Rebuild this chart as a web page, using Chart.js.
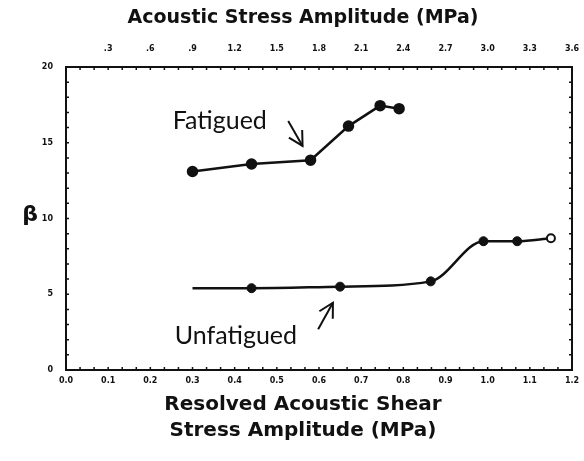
<!DOCTYPE html>
<html><head><meta charset="utf-8">
<script src="https://cdn.jsdelivr.net/npm/chart.js@4"></script>
<style>html,body{margin:0;padding:0;background:#fff}#wrap{width:584px;height:461px}</style>
</head><body><div id="wrap"><canvas id="c" width="584" height="461"></canvas></div>
<script>
// Data
const fatiguedShear = [0.30, 0.44, 0.58, 0.67, 0.745, 0.79];
const fatiguedBeta = [13.1, 13.6, 13.85, 16.1, 17.45, 17.25];
const unfatiguedShear = [0.30, 0.44, 0.65, 0.865, 0.99, 1.07, 1.15];
const unfatiguedBeta = [5.4, 5.4, 5.5, 5.85, 8.5, 8.5, 8.7];
const shearTickLabels = ['0.0','0.1','0.2','0.3','0.4','0.5','0.6','0.7','0.8','0.9','1.0','1.1','1.2'];
const stressTickLabels = ['.3','.6','.9','1.2','1.5','1.8','2.1','2.4','2.7','3.0','3.3','3.6'];
const betaTickLabels = ['0','5','10','15','20'];
const topTitle = 'Acoustic Stress Amplitude (MPa)';
const bottomTitle = ['Resolved Acoustic Shear', 'Stress Amplitude (MPa)'];
const labels = [
  {text:'Fatigued', x:0.253, y:15.89, ax1:0.527, ay1:16.43, ax2:0.561, ay2:14.79},
  {text:'Unfatigued', x:0.258, y:1.72, ax1:0.598, ay1:2.69, ax2:0.633, ay2:4.44}
];

const tickFont = {family:'DejaVu Sans', size:8, weight:'bold'};

function pts(xs, ys){ return xs.map((x,i)=>({x:x, y:ys[i]})); }
const nums = arr => arr.map(Number);

const decor = {
  id:'decor',
  afterDraw(chart){
    const ctx = chart.ctx, s = chart.scales, a = chart.chartArea;
    ctx.save();
    ctx.strokeStyle = '#111'; ctx.lineWidth = 1.5;
    // inward minor ticks
    for (let v=0; v<=20.001; v+=1){
      const py = s.y.getPixelForValue(v);
      ctx.beginPath(); ctx.moveTo(a.left, py); ctx.lineTo(a.left+3, py);
      ctx.moveTo(a.right, py); ctx.lineTo(a.right-3, py); ctx.stroke();
    }
    for (let v=0; v<=3.6001; v+=0.1){
      const px = s.x2.getPixelForValue(v);
      ctx.beginPath(); ctx.moveTo(px, a.top); ctx.lineTo(px, a.top+3);
      ctx.moveTo(px, a.bottom); ctx.lineTo(px, a.bottom-3); ctx.stroke();
    }
    ctx.fillStyle = '#111';
    ctx.textAlign = 'center'; ctx.textBaseline = 'middle';
    // axis titles
    const cx = (a.left + a.right)/2 - 16;
    ctx.font = 'bold 19px "DejaVu Sans"';
    ctx.fillText(topTitle, cx, 18);
    ctx.font = 'bold 20px "DejaVu Sans"';
    ctx.fillText(bottomTitle[0], cx, 405);
    ctx.fillText(bottomTitle[1], cx, 431);
    // beta label
    ctx.font = 'bold 22px "DejaVu Sans"';
    ctx.fillText('β', 30, s.y.getPixelForValue(10.2));
    // annotations
    ctx.font = '25px Lato';
    ctx.textAlign = 'left'; ctx.textBaseline = 'alphabetic';
    ctx.lineWidth = 2;
    labels.forEach(l=>{
      ctx.fillText(l.text, s.x.getPixelForValue(l.x), s.y.getPixelForValue(l.y));
      const x1 = s.x.getPixelForValue(l.ax1), y1 = s.y.getPixelForValue(l.ay1);
      const x2 = s.x.getPixelForValue(l.ax2), y2 = s.y.getPixelForValue(l.ay2);
      ctx.beginPath(); ctx.moveTo(x1,y1); ctx.lineTo(x2,y2); ctx.stroke();
      const ang = Math.atan2(y2-y1, x2-x1), h = 16, sp = 0.5;
      ctx.beginPath();
      ctx.moveTo(x2 - h*Math.cos(ang-sp), y2 - h*Math.sin(ang-sp));
      ctx.lineTo(x2,y2);
      ctx.lineTo(x2 - h*Math.cos(ang+sp), y2 - h*Math.sin(ang+sp));
      ctx.stroke();
    });
    ctx.restore();
  }
};

const noPad = sc => { sc.paddingLeft = 0; sc.paddingRight = 0; };

new Chart(document.getElementById('c'), {
  type:'line',
  data:{datasets:[
    {label:'Fatigued', data:pts(fatiguedShear, fatiguedBeta), borderColor:'#111', borderWidth:2.5,
     pointRadius:4.5, pointBackgroundColor:'#111', pointBorderColor:'#111', tension:0, xAxisID:'x', yAxisID:'y'},
    {label:'Unfatigued', data:pts(unfatiguedShear, unfatiguedBeta), borderColor:'#111', borderWidth:2.5,
     pointRadius:[0,4.5,4.5,4.5,4.5,4.5,4], pointBorderWidth:[1,1,1,1,1,1,2],
     pointBackgroundColor:['#111','#111','#111','#111','#111','#111','#fff'], pointBorderColor:'#111',
     cubicInterpolationMode:'monotone', xAxisID:'x', yAxisID:'y'}
  ]},
  options:{
    responsive:false, animation:false, devicePixelRatio:1,
    layout:{padding:0},
    plugins:{legend:{display:false}, tooltip:{enabled:false}},
    scales:{
      x:{type:'linear', position:'bottom', min:0, max:1.2,
        afterBuildTicks:sc=>{sc.ticks = nums(shearTickLabels).map(v=>({value:v}));},
        afterFit:sc=>{sc.height = 91; noPad(sc);},
        ticks:{font:tickFont, color:'#111', padding:6, maxRotation:0, autoSkip:false,
          callback:(v,i)=>shearTickLabels[i]},
        grid:{drawOnChartArea:false, drawTicks:false},
        border:{display:true, color:'#111', width:2}
      },
      x2:{type:'linear', position:'top', min:0, max:3.6,
        afterBuildTicks:sc=>{sc.ticks = nums(stressTickLabels).map(v=>({value:v}));},
        afterFit:sc=>{sc.height = 67; noPad(sc);},
        ticks:{font:tickFont, color:'#111', padding:13, maxRotation:0, autoSkip:false,
          callback:(v,i)=>stressTickLabels[i]},
        grid:{drawOnChartArea:false, drawTicks:false},
        border:{display:true, color:'#111', width:2}
      },
      y:{type:'linear', position:'left', min:0, max:20,
        afterBuildTicks:sc=>{sc.ticks = nums(betaTickLabels).map(v=>({value:v}));},
        afterFit:sc=>{sc.width = 66;},
        ticks:{font:tickFont, color:'#111', padding:13, callback:(v,i)=>betaTickLabels[i]},
        grid:{drawOnChartArea:false, drawTicks:false},
        border:{display:true, color:'#111', width:2}
      },
      y2:{type:'linear', position:'right', min:0, max:20,
        afterFit:sc=>{sc.width = 12;},
        ticks:{display:false},
        grid:{drawOnChartArea:false, drawTicks:false},
        border:{display:true, color:'#111', width:2}
      }
    }
  },
  plugins:[decor]
});
</script>
</body></html>
